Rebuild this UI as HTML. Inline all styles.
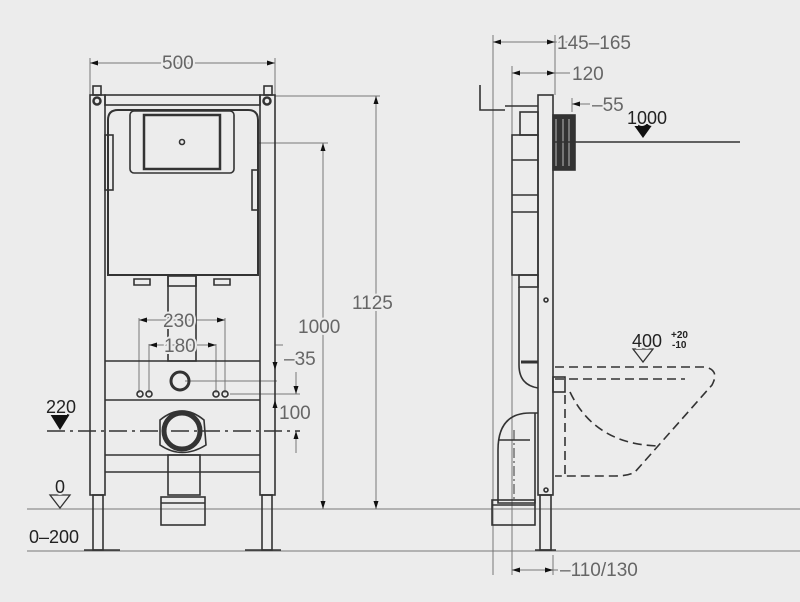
<!DOCTYPE html><html><head><style>body{margin:0;background:#ececec}svg{display:block}text{font-family:"Liberation Sans",sans-serif;fill:#666;font-size:19px;paint-order:stroke;stroke:#ececec;stroke-width:4px}</style></head><body>
<svg width="800" height="602" viewBox="0 0 800 602" xmlns="http://www.w3.org/2000/svg">
<rect width="800" height="602" fill="#ececec"/>
<g stroke="#777" stroke-width="1" fill="none">
<line x1="27" y1="509" x2="800" y2="509"/><line x1="27" y1="551" x2="800" y2="551"/>
<line x1="90" y1="58" x2="90" y2="95"/><line x1="275" y1="58" x2="275" y2="95"/><line x1="90" y1="63" x2="275" y2="63"/>
<line x1="275" y1="96" x2="380" y2="96"/><line x1="258" y1="143" x2="328" y2="143"/>
<line x1="376" y1="96" x2="376" y2="509"/><line x1="323" y1="143" x2="323" y2="509"/>
<line x1="139" y1="318" x2="139" y2="393"/><line x1="225" y1="318" x2="225" y2="393"/><line x1="139" y1="320" x2="225" y2="320"/>
<line x1="149" y1="344" x2="149" y2="393"/><line x1="216" y1="344" x2="216" y2="393"/><line x1="149" y1="345" x2="216" y2="345"/>
<line x1="275" y1="345" x2="283" y2="345"/><line x1="275" y1="345" x2="275" y2="370"/>
<line x1="185" y1="381" x2="277" y2="381"/><line x1="230" y1="394" x2="300" y2="394"/>
<line x1="296" y1="372" x2="296" y2="394"/><line x1="296" y1="431" x2="296" y2="453"/>
<line x1="275" y1="400" x2="275" y2="430"/>
<line x1="493" y1="35" x2="493" y2="575"/><line x1="512" y1="66" x2="512" y2="575"/><line x1="555" y1="35" x2="555" y2="95"/>
<line x1="493" y1="42" x2="590" y2="42"/><line x1="512" y1="73" x2="570" y2="73"/><line x1="572" y1="98" x2="572" y2="112"/><line x1="572" y1="104" x2="590" y2="104"/>
<line x1="512" y1="570" x2="560" y2="570"/><line x1="553" y1="555" x2="553" y2="575"/>
</g>
<g stroke="#333" stroke-width="1.6" fill="none">
<line x1="47" y1="431" x2="300" y2="431" stroke-dasharray="18,5,3,5"/>
<rect x="90" y="95" width="15" height="400"/><rect x="260" y="95" width="15" height="400"/>
<rect x="105" y="95" width="155" height="10"/>
<rect x="93" y="495" width="10" height="55"/><rect x="262" y="495" width="10" height="55"/>
<line x1="84" y1="550" x2="120" y2="550"/><line x1="245" y1="550" x2="281" y2="550"/>
<line x1="105" y1="361" x2="260" y2="361"/><line x1="105" y1="400" x2="260" y2="400"/>
<line x1="105" y1="455" x2="260" y2="455"/><line x1="105" y1="472" x2="260" y2="472"/>
<path d="M108 120 Q108 110 118 110 H248 Q258 110 258 120 V275 H108 Z" stroke-width="2"/>
<rect x="130" y="111" width="104" height="62" rx="4"/><rect x="144" y="115" width="76" height="54" stroke-width="2.5"/>
<circle cx="182" cy="142" r="2.5"/>
<rect x="168" y="275" width="28" height="86"/>
<rect x="168" y="276" width="28" height="10"/>
<path d="M134 279 h16 v6 h-16z M214 279 h16 v6 h-16z"/>
<circle cx="180" cy="381" r="9" stroke-width="3"/>
<circle cx="182" cy="431" r="18" stroke-width="5"/>
<path d="M160 420 Q182 402 204 420 L206 445 Q182 460 160 445 Z"/>
<rect x="168" y="455" width="32" height="40"/><rect x="161" y="497" width="44" height="28"/>
<line x1="161" y1="503" x2="205" y2="503"/>
<circle cx="140" cy="394" r="3"/><circle cx="149" cy="394" r="3"/><circle cx="216" cy="394" r="3"/><circle cx="225" cy="394" r="3"/>
<circle cx="97" cy="101" r="3.5" stroke-width="2.5"/><circle cx="267" cy="101" r="3.5" stroke-width="2.5"/>
<rect x="93" y="86" width="8" height="9"/><rect x="264" y="86" width="8" height="9"/>
<rect x="105" y="135" width="8" height="55"/><rect x="252" y="170" width="6" height="40"/>
<rect x="538" y="95" width="15" height="400"/><rect x="540" y="495" width="11" height="55"/><line x1="535" y1="550" x2="556" y2="550"/>
<rect x="512" y="135" width="26" height="140"/><line x1="512" y1="160" x2="538" y2="160"/><line x1="512" y1="195" x2="538" y2="195"/><line x1="512" y1="212" x2="538" y2="212"/>
<rect x="520" y="112" width="18" height="23"/>
<rect x="553" y="115" width="22" height="55" fill="#333"/>
<line x1="556" y1="119" x2="556" y2="166" stroke="#888"/><line x1="563" y1="119" x2="563" y2="166" stroke="#888"/><line x1="569" y1="119" x2="569" y2="166" stroke="#888"/>
<path d="M480 85 V110 H505 M505 106 H538"/>
<rect x="519" y="275" width="19" height="12"/><path d="M519 287 V365 Q519 385 538 388"/>
<line x1="521" y1="362" x2="538" y2="362" stroke-width="3"/>
<path d="M538 413 H530 Q498 413 498 450 V503 H535 V413"/>
<line x1="498" y1="440" x2="530" y2="440"/>
<rect x="492" y="500" width="43" height="25"/><line x1="492" y1="505" x2="535" y2="505"/>
<line x1="514" y1="430" x2="514" y2="500" stroke-dasharray="10,3,2,3" stroke-width="1"/>
<circle cx="546" cy="300" r="2"/><circle cx="546" cy="490" r="2"/>
<g stroke-dasharray="9,5">
<path d="M555 367 H705 Q720 370 712 385 L635 472 Q628 476 615 476 H555"/>
<path d="M555 379 H685"/>
<path d="M570 392 Q595 445 660 446"/>
<path d="M565 395 V476"/>
</g>
<rect x="553" y="377" width="12" height="15"/>
<line x1="553" y1="142" x2="740" y2="142"/>
</g>
<g fill="#111">
<path d="M633 124 h20 l-10 14z"/><path d="M50 414 h20 l-10 16z"/>
<path d="M90 63 l8 -2.5 v5z M275 63 l-8 -2.5 v5z"/>
<path d="M376 96 l-2.5 8 h5z M376 509 l-2.5 -8 h5z M323 143 l-2.5 8 h5z M323 509 l-2.5 -8 h5z"/>
<path d="M139 320 l8 -2.5 v5z M225 320 l-8 -2.5 v5z M149 345 l8 -2.5 v5z M216 345 l-8 -2.5 v5z"/>
<path d="M296 394 l-2.5 -8 h5z M296 431 l-2.5 8 h5z M275 400 l-2.5 8 h5z M275 370 l-2.5 -8 h5z"/>
<path d="M493 42 l8 -2.5 v5z M555 42 l-8 -2.5 v5z M512 73 l8 -2.5 v5z M555 73 l-8 -2.5 v5z M572 104 l8 -2.5 v5z"/>
<path d="M512 570 l8 -2.5 v5z M553 570 l-8 -2.5 v5z"/>
</g>
<g fill="none" stroke="#333" stroke-width="1.3"><path d="M50 495 h20 l-10 13z"/><path d="M633 349 h20 l-10 13z"/></g>
<text x="162" y="69">500</text>
<text x="352" y="309">1125</text>
<text x="298" y="333">1000</text>
<text x="163" y="327">230</text>
<text x="164" y="352">180</text>
<text x="284" y="365">–35</text>
<text x="279" y="419">100</text>
<text x="46" y="413" style="fill:#222;font-size:18px">220</text>
<text x="55" y="493" style="fill:#222;font-size:18px">0</text>
<text x="29" y="543" style="fill:#222;font-size:18px">0–200</text>
<text x="557" y="49">145–165</text>
<text x="572" y="80">120</text>
<text x="592" y="111">–55</text>
<text x="627" y="124" style="fill:#222;font-size:18px">1000</text>
<text x="632" y="347" style="fill:#222;font-size:18px">400</text>
<text x="671" y="338" style="fill:#222;font-size:10px;font-weight:bold;stroke-width:0">+20</text>
<text x="672" y="348" style="fill:#222;font-size:10px;font-weight:bold;stroke-width:0">-10</text>
<text x="560" y="576">–110/130</text>
</svg></body></html>
